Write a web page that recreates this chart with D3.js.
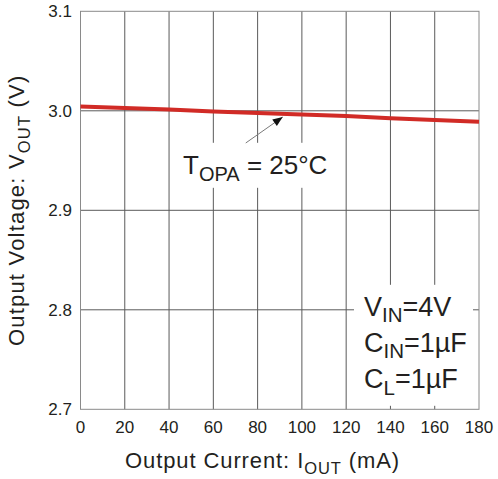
<!DOCTYPE html>
<html>
<head>
<meta charset="utf-8">
<script src="https://cdnjs.cloudflare.com/ajax/libs/d3/7.8.5/d3.min.js"></script>
<style>
  body { margin: 0; background: #fff; }
  svg text { font-family: "Liberation Sans", Arial, Helvetica, sans-serif; fill: #231f20; }
</style>
</head>
<body>
<div id="chart"></div>
<script>
'use strict';

// chart data
var current = [0, 20, 40, 60, 80, 100, 120, 140, 160, 180];
var vout = [3.0043, 3.0027, 3.0012, 2.9993, 2.9977, 2.9964, 2.9947, 2.9925, 2.9907, 2.989];
var xTicks = [0, 20, 40, 60, 80, 100, 120, 140, 160, 180];
var yTicks = [2.7, 2.8, 2.9, 3.0, 3.1];

var totalW = 498, totalH = 479;
var margin = { top: 11.3, right: 19, bottom: 69.7, left: 80.5 };
var width = totalW - margin.left - margin.right;
var height = totalH - margin.top - margin.bottom;

var svg = d3.select('#chart')
    .append('svg')
    .attr('width', totalW)
    .attr('height', totalH);

var g = svg.append('g')
    .attr('transform', 'translate(' + margin.left + ',' + margin.top + ')');

var x = d3.scaleLinear().domain([0, 180]).range([0, width]);
var y = d3.scaleLinear().domain([2.7, 3.1]).range([height, 0]);

// grid lines
g.selectAll('.vgrid')
    .data(xTicks.slice(1, -1))
    .enter()
    .append('line')
    .attr('x1', function(d) { return x(d); })
    .attr('x2', function(d) { return x(d); })
    .attr('y1', 0)
    .attr('y2', height)
    .attr('stroke', '#5a5a5a')
    .attr('stroke-width', 1);

g.selectAll('.hgrid')
    .data(yTicks.slice(1, -1))
    .enter()
    .append('line')
    .attr('x1', 0)
    .attr('x2', width)
    .attr('y1', function(d) { return y(d); })
    .attr('y2', function(d) { return y(d); })
    .attr('stroke', '#5a5a5a')
    .attr('stroke-width', 1);

// frame
g.append('rect')
    .attr('x', 0)
    .attr('y', 0)
    .attr('width', width)
    .attr('height', height)
    .attr('fill', 'none')
    .attr('stroke', '#8a8a8a')
    .attr('stroke-width', 1);

// tick labels
g.selectAll('.xlab')
    .data(xTicks)
    .enter()
    .append('text')
    .attr('x', function(d) { return x(d); })
    .attr('y', height + 23.4)
    .attr('text-anchor', 'middle')
    .style('font-size', '17px')
    .text(function(d) { return d; });

g.selectAll('.ylab')
    .data(yTicks)
    .enter()
    .append('text')
    .attr('x', -8.5)
    .attr('y', function(d) { return y(d); })
    .attr('dy', '0.36em')
    .attr('text-anchor', 'end')
    .style('font-size', '17px')
    .text(function(d) { return d.toFixed(1); });

// white boxes behind the labels
g.append('rect')
    .attr('x', 95).attr('y', 131.5)
    .attr('width', 160).attr('height', 45)
    .attr('fill', '#fff');

g.append('rect')
    .attr('x', 273.5).attr('y', 273.5)
    .attr('width', 119).attr('height', 121)
    .attr('fill', '#fff');

// data line
var line = d3.line()
    .x(function(d, i) { return x(current[i]); })
    .y(function(d) { return y(d); });

g.append('path')
    .datum(vout)
    .attr('d', line)
    .attr('fill', 'none')
    .attr('stroke', '#d12b26')
    .attr('stroke-width', 4);

// annotation arrow
var tip = [x(91.35), y(2.99377)];
var start = [tip[0] - 37, tip[1] + 26];
g.append('line')
    .attr('x1', start[0]).attr('y1', start[1])
    .attr('x2', tip[0]).attr('y2', tip[1])
    .attr('stroke', '#7a7a7a')
    .attr('stroke-width', 1);

var ang = Math.atan2(tip[1] - start[1], tip[0] - start[0]);
var hl = 10, hw = 4;
var bx = tip[0] - hl * Math.cos(ang), by = tip[1] - hl * Math.sin(ang);
var head = [
    tip,
    [bx + hw * Math.sin(ang), by - hw * Math.cos(ang)],
    [bx - hw * Math.sin(ang), by + hw * Math.cos(ang)]
];
g.append('path')
    .attr('d', 'M' + head.join('L') + 'Z')
    .attr('fill', '#111');

// temperature label
var t = g.append('text')
    .attr('x', 102.5)
    .attr('y', 162.7)
    .style('font-size', '26px');
t.append('tspan').text('T');
t.append('tspan').attr('dy', 7.5).style('font-size', '20px').text('OPA');
t.append('tspan').attr('dy', -7.5).text(' = 25\u00b0C');

// conditions label
var conds = [
    ['V', 'IN', '=4V'],
    ['C', 'IN', '=1\u00b5F'],
    ['C', 'L', '=1\u00b5F']
];
conds.forEach(function(c, i) {
    var txt = g.append('text')
        .attr('x', 283.5)
        .attr('y', 304.4 + i * 36.3)
        .style('font-size', '27px');
    txt.append('tspan').text(c[0]);
    txt.append('tspan').attr('dy', 6.5).style('font-size', '20.5px').text(c[1]);
    txt.append('tspan').attr('dy', -6.5).text(c[2]);
});

// axis titles
var xt = svg.append('text')
    .attr('x', 125)
    .attr('y', 468.3)
    .style('font-size', '22px')
    .style('letter-spacing', '0.9px');
xt.append('tspan').text('Output Current: I');
xt.append('tspan').attr('dy', 6).style('font-size', '16.5px').text('OUT');
xt.append('tspan').attr('dy', -6).text(' (mA)');

var yt = svg.append('text')
    .attr('transform', 'translate(24,' + (margin.top + height / 2) + ') rotate(-90)')
    .attr('text-anchor', 'middle')
    .style('font-size', '22px')
    .style('letter-spacing', '1.2px');
yt.append('tspan').text('Output Voltage: V');
yt.append('tspan').attr('dy', 6).style('font-size', '16.5px').text('OUT');
yt.append('tspan').attr('dy', -6).text(' (V)');
</script>
</body>
</html>
